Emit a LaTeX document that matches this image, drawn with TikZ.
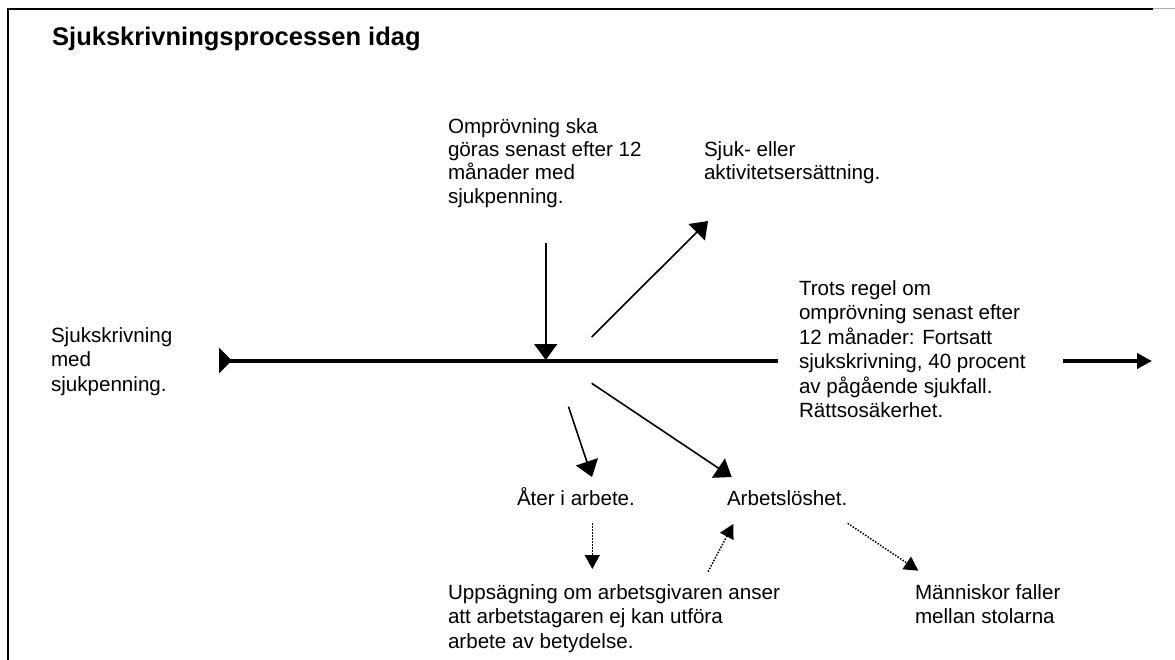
\documentclass[tikz,border=0pt]{standalone}
\usepackage{fontspec}
\setmainfont{Liberation Sans}
\usetikzlibrary{arrows.meta}
\newcommand\topst{\rule{0pt}{20pt}}
\begin{document}
\begin{tikzpicture}[x=1pt,y=-1pt,
  txt/.style={anchor=north west, inner sep=0pt, outer sep=0pt, align=left, font=\fontsize{20.6}{24.5}\selectfont},
  txttight/.style={txt, font=\fontsize{20.6}{23.2}\selectfont},
  thinarrow/.style={line width=1.6pt, -{Triangle[length=16pt,width=23pt]}},
  dotarrow/.style={line width=1.5pt, dash pattern=on 1.5pt off 1.5pt, -{Triangle[length=14pt,width=15pt]}},
  thickline/.style={line width=4pt},
  frameline/.style={line width=2pt}
]
\useasboundingbox (0,0) rectangle (1175,660);
\fill[white] (0,0) rectangle (1175,660);
% frame
\draw[frameline] (8,660) -- (8,9) -- (1153,9);
\draw[gray!60, line width=1pt] (1153,9) -- (1175,9);

% texts
\node[anchor=north west, inner sep=0pt, font=\fontsize{25.5}{30}\selectfont\bfseries] (title) at (52,23) {\rule{0pt}{22pt}Sjukskrivningsprocessen idag};
\node[txt] (sick) at (51,322) {\topst Sjukskrivning\\med\\sjukpenning.};
\node[txttight] (review) at (448,113.5) {\topst Omprövning ska\\göras senast efter 12\\månader med\\sjukpenning.};
\node[txttight] (benefit) at (704,136.5) {\topst Sjuk- eller\\aktivitetsersättning.};
\node[txt] (despite) at (799,275) {\topst Trots regel om\\omprövning senast efter\\12 månader: Fortsatt\\sjukskrivning, 40 procent\\av pågående sjukfall.\\Rättsosäkerhet.};
\node[txt] (work) at (517,485) {\topst Åter i arbete.};
\node[txt] (unemp) at (727,485) {\topst Arbetslöshet.};
\node[txt] (dismiss) at (448,579) {\topst Uppsägning om arbetsgivaren anser\\att arbetstagaren ej kan utföra\\arbete av betydelse.};
\node[txt] (fall) at (915,579) {\topst Människor faller\\mellan stolarna};

% connector end points
\coordinate (lineS) at (219,360.5);
\coordinate (lineE) at (778,360.5);
\coordinate (revS) at (545.7,243);
\coordinate (revE) at (545.7,360);
\coordinate (benS) at (591.7,337);
\coordinate (benE) at (708,221);
\coordinate (workS) at (568.5,406.7);
\coordinate (workE) at (592,477);
\coordinate (unS) at (591.7,383.3);
\coordinate (unE) at (731.7,477);
\coordinate (dwS) at (592.3,523);
\coordinate (dwE) at (592.3,569);
\coordinate (duS) at (708,571.7);
\coordinate (duE) at (733.3,524);
\coordinate (dfS) at (847.7,523.3);
\coordinate (dfE) at (918.3,570.7);
\coordinate (rS) at (1063,361);
\coordinate (rE) at (1152,361);

% main line
\draw[thickline, {Triangle[reversed,length=13pt,width=25pt]}-] (lineS) -- (lineE);
\draw[thickline, -{Triangle[length=15pt,width=15pt]}] (rS) -- (rE);

% solid arrows
\draw[thinarrow] (revS) -- (revE);
\draw[thinarrow] (benS) -- (benE);
\draw[thinarrow] (workS) -- (workE);
\draw[thinarrow] (unS) -- (unE);

% dotted arrows
\draw[dotarrow] (dwS) -- (dwE);
\draw[dotarrow] (duS) -- (duE);
\draw[dotarrow] (dfS) -- (dfE);
\end{tikzpicture}
\end{document}
